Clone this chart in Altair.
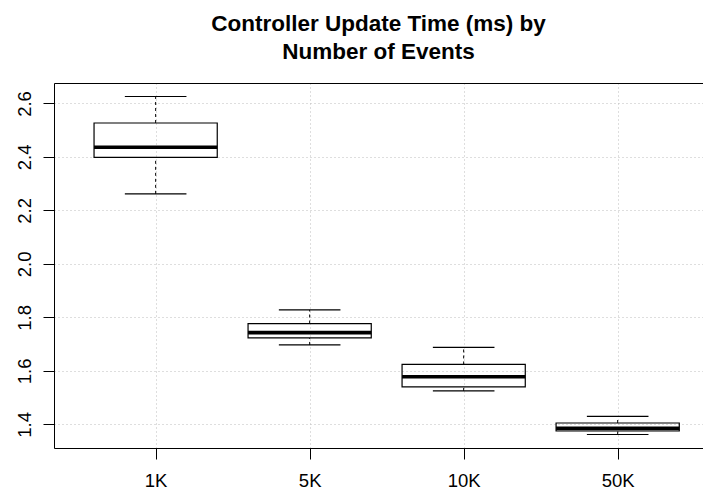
import altair as alt
import pandas as pd

categories = ["1K", "5K", "10K", "50K"]
positions = [1, 2, 3, 4]
upper = [2.626, 1.828, 1.688, 1.430]
q3 = [2.527, 1.777, 1.624, 1.405]
median = [2.436, 1.743, 1.578, 1.385]
q1 = [2.398, 1.723, 1.540, 1.375]
lower = [2.262, 1.697, 1.525, 1.362]

y_ticks = [1.4, 1.6, 1.8, 2.0, 2.2, 2.4, 2.6]

BOX_HALF = 0.4
CAP_HALF = 0.2

df = pd.DataFrame({
    "cat": categories,
    "pos": positions,
    "upper": upper,
    "q3": q3,
    "median": median,
    "q1": q1,
    "lower": lower,
})
df["bl"] = df["pos"] - BOX_HALF
df["br"] = df["pos"] + BOX_HALF
df["cl"] = df["pos"] - CAP_HALF
df["cr"] = df["pos"] + CAP_HALF

FONT = "Liberation Sans"
xscale = alt.Scale(domain=[0.34, 4.554], nice=False, zero=False)
yscale = alt.Scale(domain=[1.3115, 2.6765], nice=False, zero=False)

label_expr = "['', '1K', '5K', '10K', '50K'][datum.value]"

x_axis = alt.Axis(
    orient="bottom", values=positions, labelExpr=label_expr, title=None,
    grid=True, gridDash=[1, 3], gridColor="#bdbdbd", gridWidth=1,
    labelFont=FONT, labelFontSize=18.5, labelColor="black", labelPadding=12,
    tickSize=11, tickColor="black", domainColor="black", labelAngle=0,
)
y_axis = alt.Axis(
    orient="left", values=y_ticks, format=".1f", title=None,
    grid=True, gridDash=[1, 3], gridColor="#bdbdbd", gridWidth=1,
    labelFont=FONT, labelFontSize=18.5, labelColor="black",
    labelAngle=-90, labelAlign="center", labelBaseline="alphabetic",
    labelPadding=13, tickSize=11, tickColor="black", domainColor="black",
)
top_axis = alt.Axis(
    orient="top", title=None, labels=False, ticks=False, grid=False,
    domain=True, domainColor="black",
)

base = alt.Chart(df)

whisk_up = base.mark_rule(color="black", strokeWidth=1, strokeDash=[3, 3]).encode(
    x=alt.X("pos:Q", scale=xscale, axis=x_axis),
    y=alt.Y("q3:Q", scale=yscale, axis=y_axis),
    y2="upper:Q",
)
whisk_lo = base.mark_rule(color="black", strokeWidth=1, strokeDash=[3, 3]).encode(
    x=alt.X("pos:Q", scale=xscale, axis=None),
    y=alt.Y("lower:Q", scale=yscale),
    y2="q1:Q",
)
cap_up = base.mark_rule(color="black", strokeWidth=1.2).encode(
    x=alt.X("cl:Q", scale=xscale, axis=top_axis),
    x2="cr:Q",
    y=alt.Y("upper:Q", scale=yscale),
)
cap_lo = base.mark_rule(color="black", strokeWidth=1.2).encode(
    x=alt.X("cl:Q", scale=xscale, axis=None),
    x2="cr:Q",
    y=alt.Y("lower:Q", scale=yscale),
)
box = base.mark_rect(fillOpacity=0, stroke="black", strokeWidth=1.2).encode(
    x=alt.X("bl:Q", scale=xscale, axis=None),
    x2="br:Q",
    y=alt.Y("q1:Q", scale=yscale),
    y2="q3:Q",
)
med = base.mark_rule(color="black", strokeWidth=3.6).encode(
    x=alt.X("bl:Q", scale=xscale, axis=None),
    x2="br:Q",
    y=alt.Y("median:Q", scale=yscale),
)

chart = alt.layer(whisk_up, whisk_lo, cap_up, cap_lo, box, med).resolve_axis(
    x="independent"
).properties(
    width=649,
    height=365,
    padding={"left": 46, "top": 75, "right": 0, "bottom": 45},
    autosize=alt.AutoSizeParams(type="none"),
    title=alt.TitleParams(
        text=["Controller Update Time (ms) by", "Number of Events"],
        font=FONT, fontSize=22.5, fontWeight="bold", color="black",
        lineHeight=28, anchor="middle", offset=20,
    ),
).configure_view(stroke="transparent").configure(background="white")

chart.save("out.html", embed_options={"renderer": "svg", "actions": False})
